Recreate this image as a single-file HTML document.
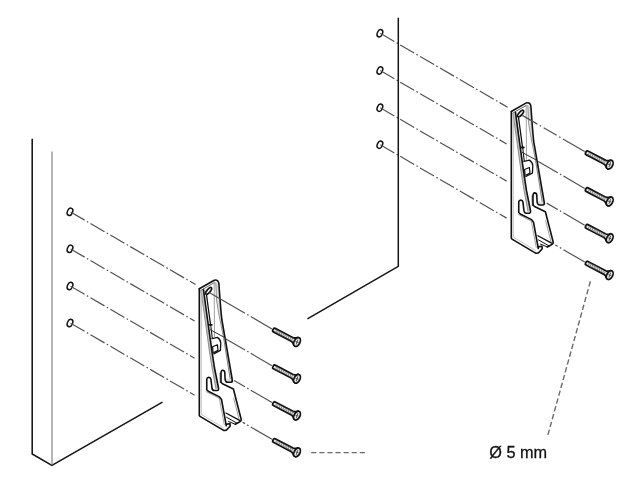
<!DOCTYPE html>
<html><head><meta charset="utf-8"><title>Bracket mounting</title>
<style>html,body{margin:0;padding:0;background:#fff;}svg{display:block;filter:blur(0.35px);}</style>
</head><body>
<svg width="640" height="481" viewBox="0 0 640 481">
<rect width="640" height="481" fill="#fff"/>
<path d="M32.2,138.8 L32.2,454 L51.9,465.4 L162.5,402.2" fill="none" stroke="#151515" stroke-width="1.55" stroke-linejoin="miter"/>
<path d="M52,151.4 L52,465" fill="none" stroke="#7a7a7a" stroke-width="1.1"/>
<ellipse cx="70" cy="211.8" rx="2.55" ry="3.8" transform="rotate(24 70 211.8)" fill="#fff" stroke="#111" stroke-width="1.5"/>
<line x1="70.60" y1="212.00" x2="195.60" y2="284.57" stroke="#525252" stroke-width="1.2" fill="none" stroke-dasharray="16.2 2.6 1.6 2.6" stroke-dashoffset="0"/>
<ellipse cx="70" cy="248.8" rx="2.55" ry="3.8" transform="rotate(24 70 248.8)" fill="#fff" stroke="#111" stroke-width="1.5"/>
<line x1="70.60" y1="249.00" x2="194.60" y2="320.99" stroke="#525252" stroke-width="1.2" fill="none" stroke-dasharray="16.2 2.6 1.6 2.6" stroke-dashoffset="0"/>
<ellipse cx="70" cy="286" rx="2.55" ry="3.8" transform="rotate(24 70 286)" fill="#fff" stroke="#111" stroke-width="1.5"/>
<line x1="70.60" y1="286.20" x2="194.60" y2="358.19" stroke="#525252" stroke-width="1.2" fill="none" stroke-dasharray="16.2 2.6 1.6 2.6" stroke-dashoffset="0"/>
<ellipse cx="70" cy="323" rx="2.55" ry="3.8" transform="rotate(24 70 323)" fill="#fff" stroke="#111" stroke-width="1.5"/>
<line x1="70.60" y1="323.20" x2="194.60" y2="395.19" stroke="#525252" stroke-width="1.2" fill="none" stroke-dasharray="16.2 2.6 1.6 2.6" stroke-dashoffset="0"/>
<ellipse cx="379.9" cy="33.25" rx="2.55" ry="3.8" transform="rotate(24 379.9 33.25)" fill="#fff" stroke="#111" stroke-width="1.5"/>
<line x1="380.30" y1="33.35" x2="507.60" y2="107.26" stroke="#525252" stroke-width="1.2" fill="none" stroke-dasharray="16.2 2.6 1.6 2.6" stroke-dashoffset="0"/>
<ellipse cx="379.9" cy="70.5" rx="2.55" ry="3.8" transform="rotate(24 379.9 70.5)" fill="#fff" stroke="#111" stroke-width="1.5"/>
<line x1="380.30" y1="70.60" x2="506.60" y2="143.93" stroke="#525252" stroke-width="1.2" fill="none" stroke-dasharray="16.2 2.6 1.6 2.6" stroke-dashoffset="0"/>
<ellipse cx="379.9" cy="107.7" rx="2.55" ry="3.8" transform="rotate(24 379.9 107.7)" fill="#fff" stroke="#111" stroke-width="1.5"/>
<line x1="380.30" y1="107.80" x2="506.60" y2="181.13" stroke="#525252" stroke-width="1.2" fill="none" stroke-dasharray="16.2 2.6 1.6 2.6" stroke-dashoffset="0"/>
<ellipse cx="379.9" cy="144.7" rx="2.55" ry="3.8" transform="rotate(24 379.9 144.7)" fill="#fff" stroke="#111" stroke-width="1.5"/>
<line x1="380.30" y1="144.80" x2="506.60" y2="218.13" stroke="#525252" stroke-width="1.2" fill="none" stroke-dasharray="16.2 2.6 1.6 2.6" stroke-dashoffset="0"/>
<path d="M398.3,17.8 L398.3,266.3 L307.4,318.8" fill="none" stroke="#151515" stroke-width="1.5"/>
<g transform="translate(0,0)">
<!-- silhouette fill -->
<path d="M199.3,288.8 L214.3,280.2 Q218.2,279.2 218.9,283.6 C220,300 220.8,312 221.9,320 L232.3,380 L233.4,389 L241.3,419.8 L239,422.3 L235.3,424.3 L230.4,425.8 L227,429.3 L223.6,430.6 L199.3,416 Z" fill="#fff" stroke="none"/>
<!-- gray shading -->
<path d="M200,289.5 L202.4,290.6 L202.4,330 L201,330 Z" fill="#ececec"/>
<path d="M201.1,291.3 L203.5,289.6 L206.9,315 L211.9,351 L214.5,368 L218.4,388 L216,388.6 L212.1,368 L209.4,351 L204.4,315 Z" fill="#c4c4c4"/>
<path d="M215.6,282.5 L218.4,284 C219.6,300 220.4,312 221.5,320 L231.8,379 L229.8,379 L223.5,337.5 L219,315 L216.5,300 Z" fill="#dcdcdc"/>
<path d="M219.2,373 L221,372 L221,382.3 L219.6,383 Z" fill="#aaa"/>
<path d="M225.8,378 L231.6,379.6 L231.2,381.8 L227.6,381.8 Z" fill="#ddd"/>
<!-- inner gray lines -->
<path d="M201.1,291.3 L204.4,315 L209.4,351 L212.1,368 L216,388.6" fill="none" stroke="#8a8a8a" stroke-linejoin="round" stroke-linecap="round" stroke-width="1"/>
<path d="M215.8,282.8 L216.5,300 L219,315 L223.5,337.5" fill="none" stroke="#8a8a8a" stroke-linejoin="round" stroke-linecap="round" stroke-width="0.9"/>
<path d="M214.2,283.5 L214.5,336.5" fill="none" stroke="#8a8a8a" stroke-linejoin="round" stroke-linecap="round" stroke-width="0.8"/>
<path d="M201.3,292 L201.3,414.4 L223.8,428" fill="none" stroke="#b5b5b5" stroke-width="0.8"/>
<path d="M206.2,391.6 L219.3,398.4 L224.3,425" fill="none" stroke="#999" stroke-width="0.9"/>
<path d="M233.6,398 L239,419" fill="none" stroke="#8a8a8a" stroke-linejoin="round" stroke-linecap="round" stroke-width="0.8"/>
<!-- outer -->
<path d="M199.3,288.8 L214.3,280.2 Q218.2,279.2 218.9,283.6 C220,300 220.8,312 221.9,320 L232.3,380" fill="none" stroke="#111" stroke-linejoin="round" stroke-linecap="round" stroke-width="1.6"/>
<path d="M200.5,290.6 L214.8,282.4" fill="none" stroke="#555" stroke-width="0.9"/>
<path d="M199.3,288.8 L199.3,415.2 Q199.3,416 200,416.4 L223.6,430.4 Q226,431 227.5,429 L230.2,426 L230,423.6 L226.3,424.2" fill="none" stroke="#111" stroke-linejoin="round" stroke-linecap="round" stroke-width="1.6"/>
<path d="M226.3,425.8 L221.5,399.5 L219.5,396.9 L208.25,391.25 L206.75,389.75 L206.75,379.25 Q207,377.4 208.8,377.4 Q210.6,377.4 210.9,379.25 L212,388.25 Q212.5,390.5 214.25,390.5 L217.25,390.5 Q218.9,390.3 218.5,388 L214.5,368 L211.9,351 L206.9,315 L203.5,289.6" fill="none" stroke="#111" stroke-linejoin="round" stroke-linecap="round" stroke-width="1.6"/>
<!-- web features -->
<path d="M206.6,295.5 L210.5,324.5" fill="none" stroke="#111" stroke-linejoin="round" stroke-linecap="round" stroke-width="1.3"/>
<path d="M209.4,324.8 L211.8,324.8" fill="none" stroke="#111" stroke-linejoin="round" stroke-linecap="round" stroke-width="1.8"/>
<path d="M210.7,325 L212.3,338.5" fill="none" stroke="#111" stroke-linejoin="round" stroke-linecap="round" stroke-width="1.1"/>
<path d="M210,329.6 L224.6,337.5" fill="none" stroke="#333" stroke-width="1"/>
<path d="M223.5,337.5 L230.2,379" fill="none" stroke="#777" stroke-width="0.9"/>
<!-- hole -->
<ellipse cx="208.6" cy="290.9" rx="1.6" ry="4.2" transform="rotate(40 208.6 290.9)" fill="#fff" stroke="#111" stroke-width="1.7"/>
<!-- clip feature -->
<path d="M212,338.6 L217.4,337.4 Q220.6,339.5 220.8,343 L220.4,350.4 L213.8,353.8" fill="none" stroke="#111" stroke-linejoin="round" stroke-linecap="round" stroke-width="1.3"/>
<path d="M213,352 L212.6,346.8 L217.4,344.8 L218,350.4 L213.8,352.6" fill="none" stroke="#111" stroke-linejoin="round" stroke-linecap="round" stroke-width="1.2"/>
<!-- right hook -->
<path d="M221,382.3 L221,373 Q221.2,370.3 222.6,370.2 Q224.6,370.3 224.8,372.5 L225.1,379.3 Q225.5,382.3 227.8,382.3 L231.1,382.3 Q232.6,382 232.3,380" fill="none" stroke="#111" stroke-linejoin="round" stroke-linecap="round" stroke-width="1.6"/>
<path d="M221,382.3 L222.5,383.8 L233.4,389 L241.3,419.8 Q241,421.5 239,422.3 L235.3,424.3" fill="none" stroke="#111" stroke-linejoin="round" stroke-linecap="round" stroke-width="1.6"/>
<!-- channel bottom -->
<path d="M225.9,413 L239.6,420.4" fill="none" stroke="#111" stroke-linejoin="round" stroke-linecap="round" stroke-width="1.3"/>
<path d="M226.5,417.2 L236.8,423.1" fill="none" stroke="#111" stroke-linejoin="round" stroke-linecap="round" stroke-width="1"/>
<path d="M228.5,421.4 L235.3,424.3" fill="none" stroke="#111" stroke-linejoin="round" stroke-linecap="round" stroke-width="1"/>
</g>
<g transform="translate(312,-177.3)">
<!-- silhouette fill -->
<path d="M199.3,288.8 L214.3,280.2 Q218.2,279.2 218.9,283.6 C220,300 220.8,312 221.9,320 L232.3,380 L233.4,389 L241.3,419.8 L239,422.3 L235.3,424.3 L230.4,425.8 L227,429.3 L223.6,430.6 L199.3,416 Z" fill="#fff" stroke="none"/>
<!-- gray shading -->
<path d="M200,289.5 L202.4,290.6 L202.4,330 L201,330 Z" fill="#ececec"/>
<path d="M201.1,291.3 L203.5,289.6 L206.9,315 L211.9,351 L214.5,368 L218.4,388 L216,388.6 L212.1,368 L209.4,351 L204.4,315 Z" fill="#c4c4c4"/>
<path d="M215.6,282.5 L218.4,284 C219.6,300 220.4,312 221.5,320 L231.8,379 L229.8,379 L223.5,337.5 L219,315 L216.5,300 Z" fill="#dcdcdc"/>
<path d="M219.2,373 L221,372 L221,382.3 L219.6,383 Z" fill="#aaa"/>
<path d="M225.8,378 L231.6,379.6 L231.2,381.8 L227.6,381.8 Z" fill="#ddd"/>
<!-- inner gray lines -->
<path d="M201.1,291.3 L204.4,315 L209.4,351 L212.1,368 L216,388.6" fill="none" stroke="#8a8a8a" stroke-linejoin="round" stroke-linecap="round" stroke-width="1"/>
<path d="M215.8,282.8 L216.5,300 L219,315 L223.5,337.5" fill="none" stroke="#8a8a8a" stroke-linejoin="round" stroke-linecap="round" stroke-width="0.9"/>
<path d="M214.2,283.5 L214.5,336.5" fill="none" stroke="#8a8a8a" stroke-linejoin="round" stroke-linecap="round" stroke-width="0.8"/>
<path d="M201.3,292 L201.3,414.4 L223.8,428" fill="none" stroke="#b5b5b5" stroke-width="0.8"/>
<path d="M206.2,391.6 L219.3,398.4 L224.3,425" fill="none" stroke="#999" stroke-width="0.9"/>
<path d="M233.6,398 L239,419" fill="none" stroke="#8a8a8a" stroke-linejoin="round" stroke-linecap="round" stroke-width="0.8"/>
<!-- outer -->
<path d="M199.3,288.8 L214.3,280.2 Q218.2,279.2 218.9,283.6 C220,300 220.8,312 221.9,320 L232.3,380" fill="none" stroke="#111" stroke-linejoin="round" stroke-linecap="round" stroke-width="1.6"/>
<path d="M200.5,290.6 L214.8,282.4" fill="none" stroke="#555" stroke-width="0.9"/>
<path d="M199.3,288.8 L199.3,415.2 Q199.3,416 200,416.4 L223.6,430.4 Q226,431 227.5,429 L230.2,426 L230,423.6 L226.3,424.2" fill="none" stroke="#111" stroke-linejoin="round" stroke-linecap="round" stroke-width="1.6"/>
<path d="M226.3,425.8 L221.5,399.5 L219.5,396.9 L208.25,391.25 L206.75,389.75 L206.75,379.25 Q207,377.4 208.8,377.4 Q210.6,377.4 210.9,379.25 L212,388.25 Q212.5,390.5 214.25,390.5 L217.25,390.5 Q218.9,390.3 218.5,388 L214.5,368 L211.9,351 L206.9,315 L203.5,289.6" fill="none" stroke="#111" stroke-linejoin="round" stroke-linecap="round" stroke-width="1.6"/>
<!-- web features -->
<path d="M206.6,295.5 L210.5,324.5" fill="none" stroke="#111" stroke-linejoin="round" stroke-linecap="round" stroke-width="1.3"/>
<path d="M209.4,324.8 L211.8,324.8" fill="none" stroke="#111" stroke-linejoin="round" stroke-linecap="round" stroke-width="1.8"/>
<path d="M210.7,325 L212.3,338.5" fill="none" stroke="#111" stroke-linejoin="round" stroke-linecap="round" stroke-width="1.1"/>
<path d="M210,329.6 L224.6,337.5" fill="none" stroke="#333" stroke-width="1"/>
<path d="M223.5,337.5 L230.2,379" fill="none" stroke="#777" stroke-width="0.9"/>
<!-- hole -->
<ellipse cx="208.6" cy="290.9" rx="1.6" ry="4.2" transform="rotate(40 208.6 290.9)" fill="#fff" stroke="#111" stroke-width="1.7"/>
<!-- clip feature -->
<path d="M212,338.6 L217.4,337.4 Q220.6,339.5 220.8,343 L220.4,350.4 L213.8,353.8" fill="none" stroke="#111" stroke-linejoin="round" stroke-linecap="round" stroke-width="1.3"/>
<path d="M213,352 L212.6,346.8 L217.4,344.8 L218,350.4 L213.8,352.6" fill="none" stroke="#111" stroke-linejoin="round" stroke-linecap="round" stroke-width="1.2"/>
<!-- right hook -->
<path d="M221,382.3 L221,373 Q221.2,370.3 222.6,370.2 Q224.6,370.3 224.8,372.5 L225.1,379.3 Q225.5,382.3 227.8,382.3 L231.1,382.3 Q232.6,382 232.3,380" fill="none" stroke="#111" stroke-linejoin="round" stroke-linecap="round" stroke-width="1.6"/>
<path d="M221,382.3 L222.5,383.8 L233.4,389 L241.3,419.8 Q241,421.5 239,422.3 L235.3,424.3" fill="none" stroke="#111" stroke-linejoin="round" stroke-linecap="round" stroke-width="1.6"/>
<!-- channel bottom -->
<path d="M225.9,413 L239.6,420.4" fill="none" stroke="#111" stroke-linejoin="round" stroke-linecap="round" stroke-width="1.3"/>
<path d="M226.5,417.2 L236.8,423.1" fill="none" stroke="#111" stroke-linejoin="round" stroke-linecap="round" stroke-width="1"/>
<path d="M228.5,421.4 L235.3,424.3" fill="none" stroke="#111" stroke-linejoin="round" stroke-linecap="round" stroke-width="1"/>
</g>
<line x1="272.00" y1="328.90" x2="209.60" y2="292.67" stroke="#525252" stroke-width="1.2" fill="none" stroke-dasharray="24.6 2.5 1.6 2.5 60" stroke-dashoffset="0"/>
<g transform="translate(274,330.0) rotate(27.5)">
<path d="M0.3,-2 L20.5,-2 Q22.5,-2.2 24.6,-4.4 L26.5,-4.4 L26.5,4.4 L24.6,4.4 Q22.5,2.2 20.5,2 L0.3,2 Q-1,2 -1,0.8 L-1,-0.8 Q-1,-2 0.3,-2 Z" fill="#e6e6e6" stroke="#111" stroke-width="1.8" stroke-linejoin="round"/>
<path d="M2.2,-1.6 L2.7,1.6 M4.2,-1.6 L4.7,1.6 M6.2,-1.6 L6.7,1.6 M8.2,-1.6 L8.7,1.6 M10.2,-1.6 L10.7,1.6 M12.2,-1.6 L12.7,1.6 M14.2,-1.6 L14.7,1.6 M16.2,-1.6 L16.7,1.6 M18.2,-1.6 L18.7,1.6 M20.2,-1.6 L20.7,1.6" stroke="#777" stroke-width="0.8" fill="none"/>
<ellipse cx="26" cy="0" rx="2.9" ry="4.7" fill="#efefef" stroke="#111" stroke-width="1.7"/>
<path d="M24.4,0.3 L27.6,-0.3 M25.7,-2.6 L26.3,2.6" stroke="#444" stroke-width="0.9" fill="none"/>
</g>
<line x1="272.00" y1="365.70" x2="225.50" y2="338.70" stroke="#525252" stroke-width="1.2" fill="none" stroke-dasharray="24.6 2.5 1.6 2.5 60" stroke-dashoffset="0"/>
<g transform="translate(274,366.79999999999995) rotate(27.5)">
<path d="M0.3,-2 L20.5,-2 Q22.5,-2.2 24.6,-4.4 L26.5,-4.4 L26.5,4.4 L24.6,4.4 Q22.5,2.2 20.5,2 L0.3,2 Q-1,2 -1,0.8 L-1,-0.8 Q-1,-2 0.3,-2 Z" fill="#e6e6e6" stroke="#111" stroke-width="1.8" stroke-linejoin="round"/>
<path d="M2.2,-1.6 L2.7,1.6 M4.2,-1.6 L4.7,1.6 M6.2,-1.6 L6.7,1.6 M8.2,-1.6 L8.7,1.6 M10.2,-1.6 L10.7,1.6 M12.2,-1.6 L12.7,1.6 M14.2,-1.6 L14.7,1.6 M16.2,-1.6 L16.7,1.6 M18.2,-1.6 L18.7,1.6 M20.2,-1.6 L20.7,1.6" stroke="#777" stroke-width="0.8" fill="none"/>
<ellipse cx="26" cy="0" rx="2.9" ry="4.7" fill="#efefef" stroke="#111" stroke-width="1.7"/>
<path d="M24.4,0.3 L27.6,-0.3 M25.7,-2.6 L26.3,2.6" stroke="#444" stroke-width="0.9" fill="none"/>
</g>
<line x1="272.00" y1="402.50" x2="234.00" y2="380.44" stroke="#525252" stroke-width="1.2" fill="none" stroke-dasharray="24.6 2.5 1.6 2.5 60" stroke-dashoffset="0"/>
<g transform="translate(274,403.59999999999997) rotate(27.5)">
<path d="M0.3,-2 L20.5,-2 Q22.5,-2.2 24.6,-4.4 L26.5,-4.4 L26.5,4.4 L24.6,4.4 Q22.5,2.2 20.5,2 L0.3,2 Q-1,2 -1,0.8 L-1,-0.8 Q-1,-2 0.3,-2 Z" fill="#e6e6e6" stroke="#111" stroke-width="1.8" stroke-linejoin="round"/>
<path d="M2.2,-1.6 L2.7,1.6 M4.2,-1.6 L4.7,1.6 M6.2,-1.6 L6.7,1.6 M8.2,-1.6 L8.7,1.6 M10.2,-1.6 L10.7,1.6 M12.2,-1.6 L12.7,1.6 M14.2,-1.6 L14.7,1.6 M16.2,-1.6 L16.7,1.6 M18.2,-1.6 L18.7,1.6 M20.2,-1.6 L20.7,1.6" stroke="#777" stroke-width="0.8" fill="none"/>
<ellipse cx="26" cy="0" rx="2.9" ry="4.7" fill="#efefef" stroke="#111" stroke-width="1.7"/>
<path d="M24.4,0.3 L27.6,-0.3 M25.7,-2.6 L26.3,2.6" stroke="#444" stroke-width="0.9" fill="none"/>
</g>
<line x1="272.00" y1="439.30" x2="242.60" y2="422.23" stroke="#525252" stroke-width="1.2" fill="none" stroke-dasharray="24.6 2.5 1.6 2.5 60" stroke-dashoffset="0"/>
<g transform="translate(274,440.4) rotate(27.5)">
<path d="M0.3,-2 L20.5,-2 Q22.5,-2.2 24.6,-4.4 L26.5,-4.4 L26.5,4.4 L24.6,4.4 Q22.5,2.2 20.5,2 L0.3,2 Q-1,2 -1,0.8 L-1,-0.8 Q-1,-2 0.3,-2 Z" fill="#e6e6e6" stroke="#111" stroke-width="1.8" stroke-linejoin="round"/>
<path d="M2.2,-1.6 L2.7,1.6 M4.2,-1.6 L4.7,1.6 M6.2,-1.6 L6.7,1.6 M8.2,-1.6 L8.7,1.6 M10.2,-1.6 L10.7,1.6 M12.2,-1.6 L12.7,1.6 M14.2,-1.6 L14.7,1.6 M16.2,-1.6 L16.7,1.6 M18.2,-1.6 L18.7,1.6 M20.2,-1.6 L20.7,1.6" stroke="#777" stroke-width="0.8" fill="none"/>
<ellipse cx="26" cy="0" rx="2.9" ry="4.7" fill="#efefef" stroke="#111" stroke-width="1.7"/>
<path d="M24.4,0.3 L27.6,-0.3 M25.7,-2.6 L26.3,2.6" stroke="#444" stroke-width="0.9" fill="none"/>
</g>
<line x1="584.70" y1="151.60" x2="522.30" y2="115.37" stroke="#525252" stroke-width="1.2" fill="none" stroke-dasharray="25.2 2.8 1.6 2.8 15.1 2.8 1.6 2.8 60" stroke-dashoffset="0"/>
<g transform="translate(586.7,152.7) rotate(27.5)">
<path d="M0.3,-2 L20.5,-2 Q22.5,-2.2 24.6,-4.4 L26.5,-4.4 L26.5,4.4 L24.6,4.4 Q22.5,2.2 20.5,2 L0.3,2 Q-1,2 -1,0.8 L-1,-0.8 Q-1,-2 0.3,-2 Z" fill="#e6e6e6" stroke="#111" stroke-width="1.8" stroke-linejoin="round"/>
<path d="M2.2,-1.6 L2.7,1.6 M4.2,-1.6 L4.7,1.6 M6.2,-1.6 L6.7,1.6 M8.2,-1.6 L8.7,1.6 M10.2,-1.6 L10.7,1.6 M12.2,-1.6 L12.7,1.6 M14.2,-1.6 L14.7,1.6 M16.2,-1.6 L16.7,1.6 M18.2,-1.6 L18.7,1.6 M20.2,-1.6 L20.7,1.6" stroke="#777" stroke-width="0.8" fill="none"/>
<ellipse cx="26" cy="0" rx="2.9" ry="4.7" fill="#efefef" stroke="#111" stroke-width="1.7"/>
<path d="M24.4,0.3 L27.6,-0.3 M25.7,-2.6 L26.3,2.6" stroke="#444" stroke-width="0.9" fill="none"/>
</g>
<line x1="584.70" y1="188.40" x2="538.20" y2="161.40" stroke="#525252" stroke-width="1.2" fill="none" stroke-dasharray="24.6 2.5 1.6 2.5 60" stroke-dashoffset="0"/>
<g transform="translate(586.7,189.49999999999994) rotate(27.5)">
<path d="M0.3,-2 L20.5,-2 Q22.5,-2.2 24.6,-4.4 L26.5,-4.4 L26.5,4.4 L24.6,4.4 Q22.5,2.2 20.5,2 L0.3,2 Q-1,2 -1,0.8 L-1,-0.8 Q-1,-2 0.3,-2 Z" fill="#e6e6e6" stroke="#111" stroke-width="1.8" stroke-linejoin="round"/>
<path d="M2.2,-1.6 L2.7,1.6 M4.2,-1.6 L4.7,1.6 M6.2,-1.6 L6.7,1.6 M8.2,-1.6 L8.7,1.6 M10.2,-1.6 L10.7,1.6 M12.2,-1.6 L12.7,1.6 M14.2,-1.6 L14.7,1.6 M16.2,-1.6 L16.7,1.6 M18.2,-1.6 L18.7,1.6 M20.2,-1.6 L20.7,1.6" stroke="#777" stroke-width="0.8" fill="none"/>
<ellipse cx="26" cy="0" rx="2.9" ry="4.7" fill="#efefef" stroke="#111" stroke-width="1.7"/>
<path d="M24.4,0.3 L27.6,-0.3 M25.7,-2.6 L26.3,2.6" stroke="#444" stroke-width="0.9" fill="none"/>
</g>
<line x1="584.70" y1="225.20" x2="546.70" y2="203.14" stroke="#525252" stroke-width="1.2" fill="none" stroke-dasharray="24.6 2.5 1.6 2.5 60" stroke-dashoffset="0"/>
<g transform="translate(586.7,226.29999999999995) rotate(27.5)">
<path d="M0.3,-2 L20.5,-2 Q22.5,-2.2 24.6,-4.4 L26.5,-4.4 L26.5,4.4 L24.6,4.4 Q22.5,2.2 20.5,2 L0.3,2 Q-1,2 -1,0.8 L-1,-0.8 Q-1,-2 0.3,-2 Z" fill="#e6e6e6" stroke="#111" stroke-width="1.8" stroke-linejoin="round"/>
<path d="M2.2,-1.6 L2.7,1.6 M4.2,-1.6 L4.7,1.6 M6.2,-1.6 L6.7,1.6 M8.2,-1.6 L8.7,1.6 M10.2,-1.6 L10.7,1.6 M12.2,-1.6 L12.7,1.6 M14.2,-1.6 L14.7,1.6 M16.2,-1.6 L16.7,1.6 M18.2,-1.6 L18.7,1.6 M20.2,-1.6 L20.7,1.6" stroke="#777" stroke-width="0.8" fill="none"/>
<ellipse cx="26" cy="0" rx="2.9" ry="4.7" fill="#efefef" stroke="#111" stroke-width="1.7"/>
<path d="M24.4,0.3 L27.6,-0.3 M25.7,-2.6 L26.3,2.6" stroke="#444" stroke-width="0.9" fill="none"/>
</g>
<line x1="584.70" y1="262.00" x2="555.30" y2="244.93" stroke="#525252" stroke-width="1.2" fill="none" stroke-dasharray="24.6 2.5 1.6 2.5 60" stroke-dashoffset="0"/>
<g transform="translate(586.7,263.09999999999997) rotate(27.5)">
<path d="M0.3,-2 L20.5,-2 Q22.5,-2.2 24.6,-4.4 L26.5,-4.4 L26.5,4.4 L24.6,4.4 Q22.5,2.2 20.5,2 L0.3,2 Q-1,2 -1,0.8 L-1,-0.8 Q-1,-2 0.3,-2 Z" fill="#e6e6e6" stroke="#111" stroke-width="1.8" stroke-linejoin="round"/>
<path d="M2.2,-1.6 L2.7,1.6 M4.2,-1.6 L4.7,1.6 M6.2,-1.6 L6.7,1.6 M8.2,-1.6 L8.7,1.6 M10.2,-1.6 L10.7,1.6 M12.2,-1.6 L12.7,1.6 M14.2,-1.6 L14.7,1.6 M16.2,-1.6 L16.7,1.6 M18.2,-1.6 L18.7,1.6 M20.2,-1.6 L20.7,1.6" stroke="#777" stroke-width="0.8" fill="none"/>
<ellipse cx="26" cy="0" rx="2.9" ry="4.7" fill="#efefef" stroke="#111" stroke-width="1.7"/>
<path d="M24.4,0.3 L27.6,-0.3 M25.7,-2.6 L26.3,2.6" stroke="#444" stroke-width="0.9" fill="none"/>
</g>
<line x1="311.2" y1="452.6" x2="366" y2="452.6" stroke="#6a6a6a" stroke-width="1.4" stroke-dasharray="5.1 3"/>
<line x1="590.4" y1="281.3" x2="547.6" y2="436" stroke="#6a6a6a" stroke-width="1.4" stroke-dasharray="5.4 2.7"/>
<text x="489.2" y="457.6" font-family="Liberation Sans, Arial, sans-serif" font-size="16.3" fill="#111" stroke="#111" stroke-width="0.3">Ø 5 mm</text>
</svg>
</body></html>
